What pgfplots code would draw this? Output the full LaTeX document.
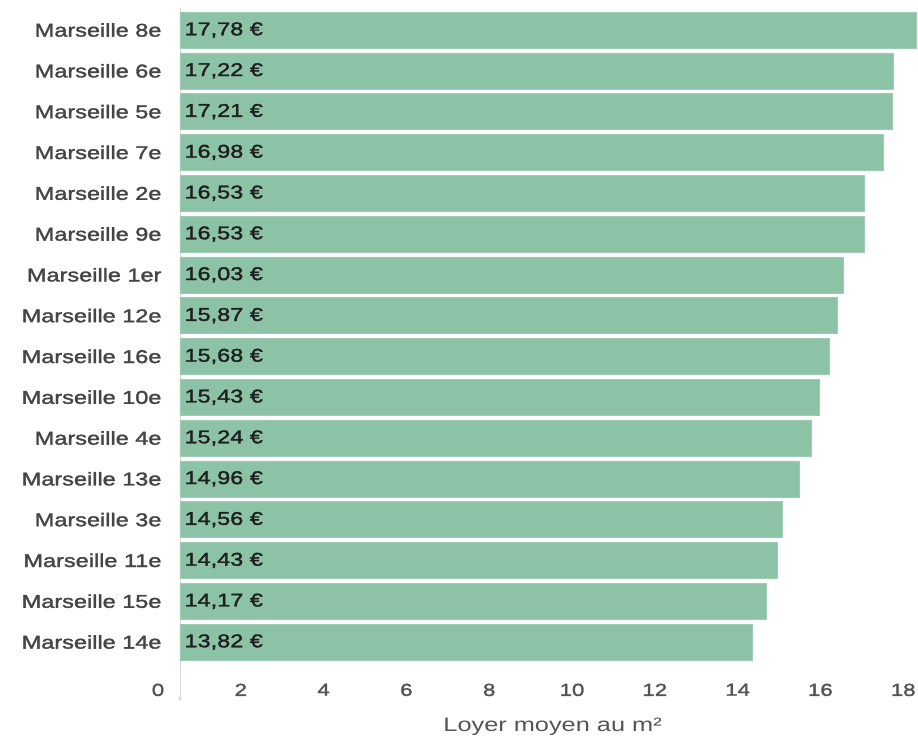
\documentclass[border=0pt]{standalone}
\usepackage{pgfplots}
\pgfplotsset{compat=1.18}
\usepackage{pgfplotstable}
\usepackage{fontspec}
\setmainfont[FakeStretch=1.3]{Liberation Sans}
\newfontfamily\medfont[FakeStretch=1.27,FakeBold=1.8]{Liberation Sans}
\usetikzlibrary{calc}

\definecolor{barfill}{HTML}{8CC3A6}
\definecolor{labelgray}{HTML}{454545}
\definecolor{tickgray}{HTML}{555555}
\definecolor{axisgray}{HTML}{D6D6D6}

% Loyer moyen au m2 par arrondissement (index 0 = haut)
\pgfplotstableread{
idx val
0  17.78
1  17.22
2  17.21
3  16.98
4  16.53
5  16.53
6  16.03
7  15.87
8  15.68
9  15.43
10 15.24
11 14.96
12 14.56
13 14.43
14 14.17
15 13.82
}\loyers

\begin{document}
\begin{tikzpicture}
\begin{axis}[
  scale only axis,
  x=41.4pt, y=40.8pt,
  y dir=reverse,
  xmin=0, xmax=18,
  ymin=-0.55, ymax=16.45,
  axis lines=left,
  x axis line style={draw=none},
  y axis line style={draw=axisgray, line width=0.8pt},
  major tick length=0pt,
  xtick={0,2,...,18},
  xticklabel style={font=\fontsize{17.5}{20}\selectfont\medfont, text=tickgray, yshift=21pt, xshift=-22pt},
  ytick={0,...,15},
  yticklabels={Marseille 8e,Marseille 6e,Marseille 5e,Marseille 7e,Marseille 2e,Marseille 9e,Marseille 1er,Marseille 12e,Marseille 16e,Marseille 10e,Marseille 4e,Marseille 13e,Marseille 3e,Marseille 11e,Marseille 15e,Marseille 14e},
  yticklabel style={font=\fontsize{18.5}{20}\selectfont\medfont, text=labelgray, anchor=east, xshift=-15pt},
  xlabel={Loyer moyen au m²},
  xlabel style={font=\fontsize{19.5}{22}\selectfont, text=tickgray, at={(axis description cs:0.5,0)}, anchor=north, yshift=-13pt},
  /pgf/number format/assume math mode=true,
  clip=false,
]
\addplot[xbar, bar width=36pt, fill=barfill, draw=barfill!85!white, line width=0.6pt]
  table[x=val, y=idx] {\loyers};
\addplot[draw=none, mark=none,
  nodes near coords={\pgfmathprintnumber[fixed, fixed zerofill, precision=2, use comma]{\pgfplotspointmeta}~€},
  nodes near coords align={anchor=west},
  point meta=\thisrow{val},
  every node near coord/.append style={font=\fontsize{18.5}{20}\selectfont\medfont, text=black!88, anchor=west, xshift=1pt}]
  table[x expr=0, y=idx] {\loyers};
\coordinate (o) at (axis cs:0,0);
\end{axis}
\pgfresetboundingbox
\path ($(o)+(-180pt,30pt)$) rectangle ($(o)+(738pt,-714pt)$);
\end{tikzpicture}
\end{document}
